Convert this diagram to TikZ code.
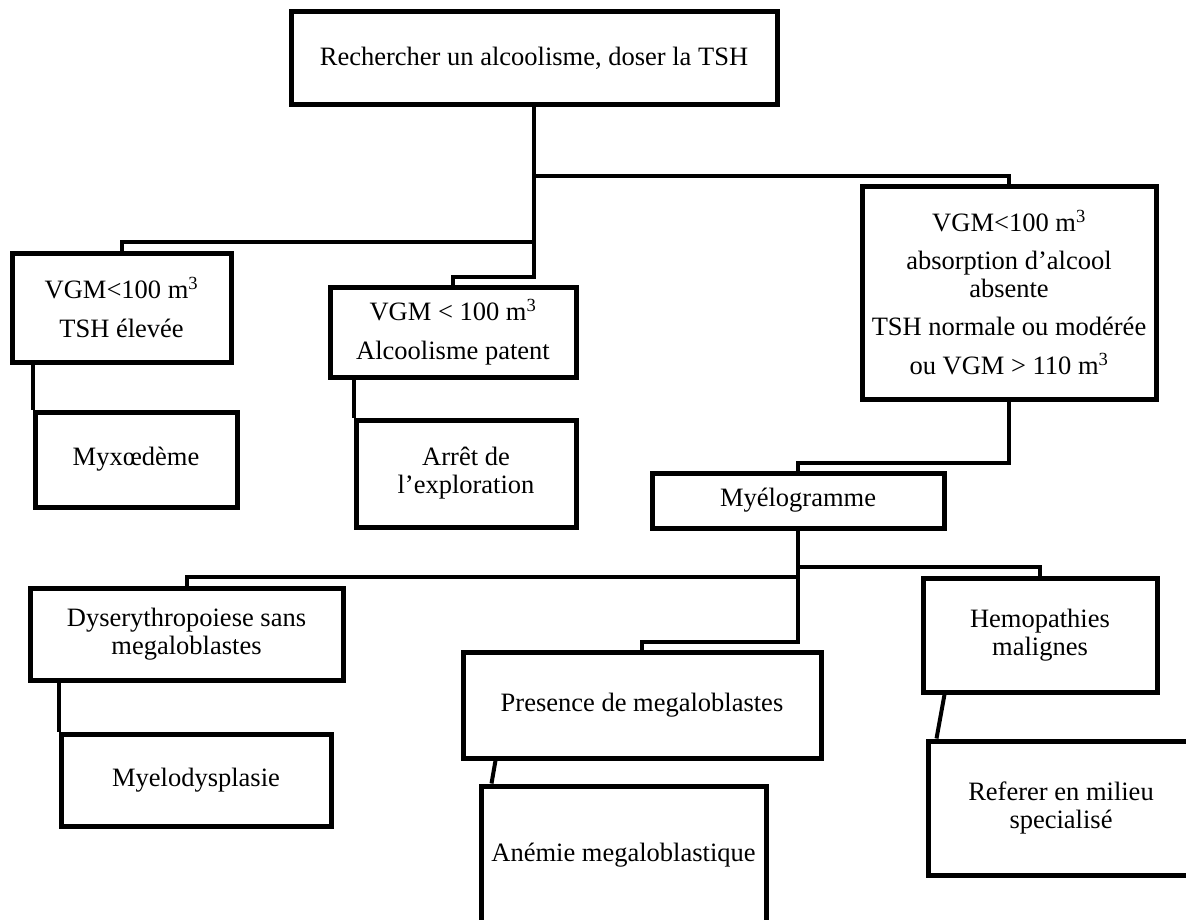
\documentclass[tikz,border=0pt]{standalone}
\usepackage{fontspec}
\setmainfont{Liberation Serif}
\usetikzlibrary{calc}

\begin{document}
\begin{tikzpicture}[x=1pt, y=-1pt,
    box/.style={draw, line width=5pt, align=center, inner sep=2pt,
      font=\fontsize{26.5}{28}\selectfont},
    link/.style={line width=4pt}]
    \clip (0,0) rectangle (1186,920);
    \node[box, minimum width=486pt, minimum height=93pt] (top) at (534,58.5) {Rechercher un alcoolisme, doser la TSH};
    \node[box, minimum width=219pt, minimum height=109pt] (vgmA) at (121.5,307.5) {VGM<100 m\textsuperscript{3}\\[11pt] TSH élevée};
    \node[box, minimum width=246pt, minimum height=90pt] (vgmB) at (453,332) {VGM < 100 m\textsuperscript{3}\\[11pt] Alcoolisme patent};
    \node[box, minimum width=294pt, minimum height=212pt] (vgmC) at (1009,293) {VGM<100 m\textsuperscript{3}\\[10pt] absorption d’alcool\\ absente\\[10pt] TSH normale ou modérée\\[11pt] ou VGM > 110 m\textsuperscript{3}};
    \node[box, minimum width=202pt, minimum height=95pt] (myx) at (136,459.5) {Myxœdème};
    \node[box, minimum width=220pt, minimum height=107pt] (arret) at (466,473.5) {Arrêt de\\ l’exploration};
    \node[box, minimum width=292pt, minimum height=55pt] (myelo) at (798,500.5) {Myélogramme};
    \node[box, minimum width=313pt, minimum height=92pt] (dys) at (186.5,634) {Dyserythropoiese sans\\ megaloblastes};
    \node[box, minimum width=234pt, minimum height=114pt] (hemo) at (1040,635) {Hemopathies\\ malignes};
    \node[box, minimum width=358pt, minimum height=106pt] (presence) at (642,705) {Presence de megaloblastes};
    \node[box, minimum width=270pt, minimum height=92pt] (myelodys) at (196,780) {Myelodysplasie};
    \node[box, minimum width=285pt, minimum height=138pt] (anemie) at (623.5,855) {Anémie megaloblastique};
    \node[box, minimum width=266pt, minimum height=134pt] (referer) at (1061,808) {Referer en milieu\\ specialisé};
    \draw[link] (top.south) -- (top.south |- 0,176) -| (vgmC.north);
    \draw[link] (top.south) -- (top.south |- 0,242) -| (vgmA.north);
    \draw[link] (top.south) -- (top.south |- 0,277) -| (vgmB.north);
    \draw[link] (myx.north west |- vgmA.south) -- (myx.north west);
    \draw[link] (arret.north west |- vgmB.south) -- (arret.north west);
    \draw[link] (vgmC.south) -- (vgmC.south |- 0,463) -| (myelo.north);
    \draw[link] (myelo.south) -- (myelo.south |- 0,567) -| (hemo.north);
    \draw[link] (myelo.south) -- (myelo.south |- 0,577) -| (dys.north);
    \draw[link] (myelo.south) -- (myelo.south |- 0,642) -| (presence.north);
    \draw[link] (myelodys.north west |- dys.south) -- (myelodys.north west);
    \draw[link] ($(presence.south west)+(35,0)$) -- ($(anemie.north west)+(13,0)$);
    \draw[link] ($(hemo.south west)+(24,0)$) -- ($(referer.north west)+(11,0)$);
\end{tikzpicture}
\end{document}
